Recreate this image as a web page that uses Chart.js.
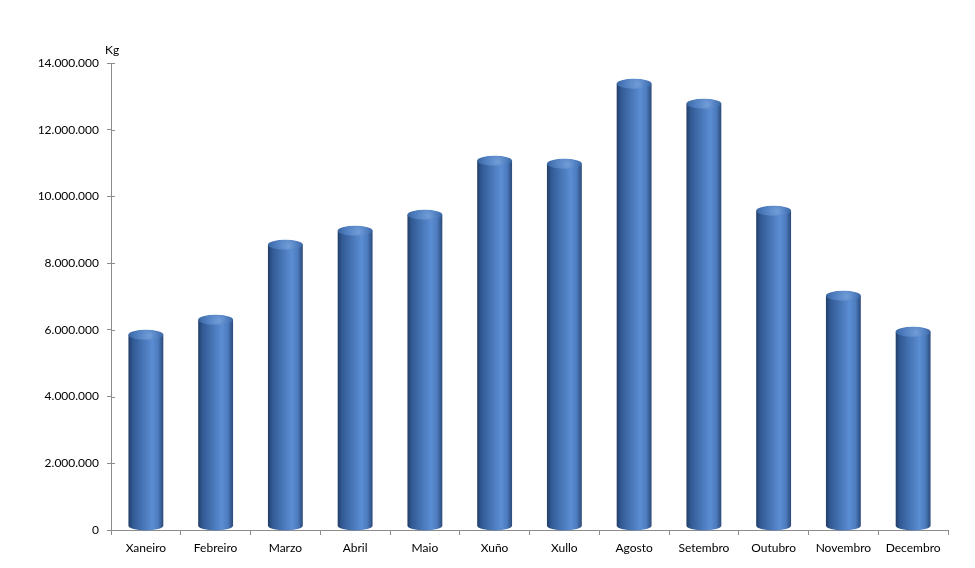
<!DOCTYPE html>
<html>
<head>
<meta charset="utf-8">
<script src="https://cdn.jsdelivr.net/npm/chart.js@4.4.1/dist/chart.umd.min.js"></script>
<style>
  html, body { margin: 0; padding: 0; background: #fff; }
  #wrap { width: 975px; height: 568px; }
</style>
</head>
<body>
<div id="wrap"><canvas id="chart" width="975" height="568"></canvas></div>
<script>
const months = ['Xaneiro', 'Febreiro', 'Marzo', 'Abril', 'Maio', 'Xuño', 'Xullo', 'Agosto', 'Setembro', 'Outubro', 'Novembro', 'Decembro'];
const kilos = [5850000, 6300000, 8550000, 8970000, 9450000, 11070000, 10980000, 13380000, 12780000, 9570000, 7020000, 5940000];
const yMax = 14000000;
const yStep = 2000000;
const unitLabel = 'Kg';

function fmt(v) {
    return String(v).replace(/\B(?=(\d{3})+(?!\d))/g, '.');
}

// draws each bar as a shaded cylinder
const cylinders = {
    id: 'cylinders',
    afterDatasetsDraw(chart) {
        const ctx = chart.ctx;
        const meta = chart.getDatasetMeta(0);
        meta.data.forEach(bar => {
            const w = bar.width;
            const x0 = bar.x - w / 2, x1 = bar.x + w / 2;
            const ry = 5;
            const top = bar.y;
            const bottom = bar.base - 4;

            const g = ctx.createLinearGradient(x0, 0, x1, 0);
            g.addColorStop(0, '#223d66');
            g.addColorStop(0.12, '#315993');
            g.addColorStop(0.4, '#4674b4');
            g.addColorStop(0.68, '#5b8dd3');
            g.addColorStop(0.85, '#4d7cbf');
            g.addColorStop(1, '#2b4a7a');

            ctx.save();
            ctx.fillStyle = g;
            ctx.beginPath();
            ctx.moveTo(x0, top);
            ctx.lineTo(x0, bottom);
            ctx.ellipse(bar.x, bottom, w / 2, ry, 0, Math.PI, 0, true);
            ctx.lineTo(x1, top);
            ctx.closePath();
            ctx.fill();

            const cg = ctx.createRadialGradient(bar.x + w * 0.1, top + 1, 1, bar.x, top, w / 2);
            cg.addColorStop(0, '#6f9bd6');
            cg.addColorStop(0.6, '#4f7ec0');
            cg.addColorStop(1, '#3a64a0');
            ctx.fillStyle = cg;
            ctx.beginPath();
            ctx.ellipse(bar.x, top, w / 2, ry, 0, 0, Math.PI * 2);
            ctx.fill();
            ctx.restore();
        });
    },
    afterDraw(chart) {
        const ctx = chart.ctx;
        const y = chart.scales.y;
        const a = chart.chartArea;
        ctx.save();
        ctx.strokeStyle = '#8c8c8c';
        ctx.lineWidth = 1;
        y.ticks.forEach(t => {
            const py = Math.round(y.getPixelForValue(t.value)) + 0.5;
            ctx.beginPath();
            ctx.moveTo(a.left, py);
            ctx.lineTo(a.left + 4, py);
            ctx.stroke();
        });
        ctx.fillStyle = '#000';
        ctx.font = '12px Lato';
        ctx.textAlign = 'left';
        ctx.textBaseline = 'middle';
        ctx.fillText(unitLabel, a.left - 6, a.top - 13);
        ctx.restore();
    }
};

new Chart(document.getElementById('chart'), {
    type: 'bar',
    data: {
        labels: months,
        datasets: [{
            label: unitLabel,
            data: kilos,
            backgroundColor: 'rgba(0,0,0,0)',
            categoryPercentage: 1,
            barPercentage: 0.5
        }]
    },
    options: {
        responsive: false,
        animation: false,
        layout: { padding: { top: 63, right: 27, left: 0, bottom: 0 } },
        plugins: {
            legend: { display: false },
            tooltip: { enabled: false }
        },
        scales: {
            x: {
                grid: { display: true, drawOnChartArea: false, tickLength: 5, color: '#8c8c8c' },
                border: { color: '#8c8c8c' },
                ticks: { color: '#000', font: { family: 'Lato', size: 12 }, padding: 6, maxRotation: 0 },
                afterFit(scale) { scale.height = 38; }
            },
            y: {
                min: 0,
                max: yMax,
                grid: { display: true, drawOnChartArea: false, tickLength: 4, color: '#8c8c8c' },
                border: { color: '#8c8c8c' },
                ticks: {
                    stepSize: yStep,
                    color: '#000',
                    font: { family: 'Lato', size: 12 },
                    padding: 8,
                    callback: v => fmt(v)
                },
                afterFit(scale) { scale.width = 111; }
            }
        }
    },
    plugins: [cylinders]
});
</script>
</body>
</html>
